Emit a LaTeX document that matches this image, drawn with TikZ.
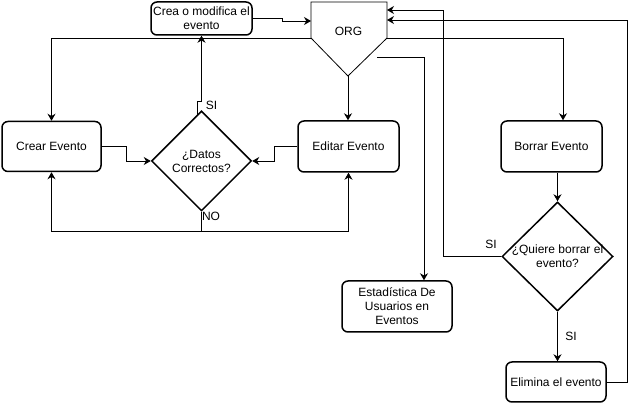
\documentclass[tikz,border=0pt]{standalone}
\usepackage{fontspec}
\setmainfont{Liberation Sans}
\usetikzlibrary{arrows.meta,shapes.geometric}
\begin{document}
\begin{tikzpicture}[x=1pt,y=-1pt,
  font=\fontsize{12}{14}\selectfont,
  box/.style={draw,rounded corners=6pt,line width=1.5pt,align=center,inner sep=0pt},
  dec/.style={draw,diamond,line width=1.5pt,inner sep=0pt},
  txt/.style={align=center,inner sep=0pt},
  conn/.style={line width=0.8pt,-{Stealth[length=7pt,width=8pt]}},
  lbl/.style={inner sep=0pt}]
\useasboundingbox (0,0) rectangle (635,403);
\fill[white] (0,0) rectangle (635,403);

% ORG shape
\coordinate (orgTL) at (311,2);
\coordinate (orgTR) at (387,2);
\coordinate (orgR) at (387,38);
\coordinate (orgB) at (348,76);
\coordinate (orgL) at (311,38);
\draw[line width=0.8pt] (orgTL) -- (orgTR) -- (orgR) -- (orgB) -- (orgL) -- cycle;
\node[txt] (org) at (348.5,31) {ORG};
\coordinate (orgIn1) at (311,21);
\coordinate (orgIn2) at (387,10);
\coordinate (orgIn3) at (387,20);
\coordinate (orgOut) at (377,57);

% nodes
\node[box,minimum width=101pt,minimum height=33pt] (crea) at (201.5,18.5) {Crea o modifica el\\evento};
\node[box,minimum width=99pt,minimum height=50pt] (crear) at (51.5,146.5) {Crear Evento};
\node[box,minimum width=101pt,minimum height=51pt] (editar) at (348.5,146.5) {Editar Evento};
\node[box,minimum width=101pt,minimum height=51pt] (borrar) at (551.5,146.5) {Borrar Evento};
\node[box,minimum width=110pt,minimum height=51pt] (estad) at (397,306.5) {Estadística De\\Usuarios en\\Eventos};
\node[box,minimum width=100pt,minimum height=40pt] (elimina) at (556,382) {Elimina el evento};
\node[dec,minimum width=100pt,minimum height=100pt] (datos) at (201.5,161) {};
\node[txt] (datost) at (datos) {¿Datos\\Correctos?};
\node[dec,minimum width=111pt,minimum height=109pt] (quiere) at (557.5,256.5) {};
\node[txt] (quieret) at (quiere) {¿Quiere borrar el\\evento?};

% connectors
\draw[conn] (crea.east) -- ++(30,0) |- (orgIn1);
\draw[conn] (orgL) -| (crear.north);
\draw[conn] (orgR) -| ([xshift=11.5pt]borrar.north);
\draw[conn] (orgB) -- (orgB |- editar.north);
\draw[conn] (orgOut) -| ([xshift=27pt]estad.north);
\draw[conn] (crear.east) -- ++(25,0) |- (datos.west);
\draw[conn] (editar.west) -- ++(-23,0) |- (datos.east);
\draw[conn] ([xshift=-4.5pt,yshift=-4.5pt]datos.north) -- ++(0,-13.5) -| (crea.south);
\draw[conn] (datos.south) -- ++(0,20) -| (crear.south);
\draw[conn] (datos.south) -- ++(0,20) -| (editar.south);
\draw[conn] (borrar.south -| quiere.north) -- (quiere.north);
\draw[conn] (quiere.south) -- (quiere.south |- elimina.north);
\draw[conn] (quiere.west) -- ++(-58,0) |- (orgIn2);
\draw[conn] (elimina.east) -- ++(21,0) |- (orgIn3);

% labels
\node[lbl] (lsi1) at (211.5,105) {SI};
\node[lbl] (lno) at (211,216) {NO};
\node[lbl] (lsi2) at (491,244) {SI};
\node[lbl] (lsi3) at (571,336) {SI};
\end{tikzpicture}
\end{document}
